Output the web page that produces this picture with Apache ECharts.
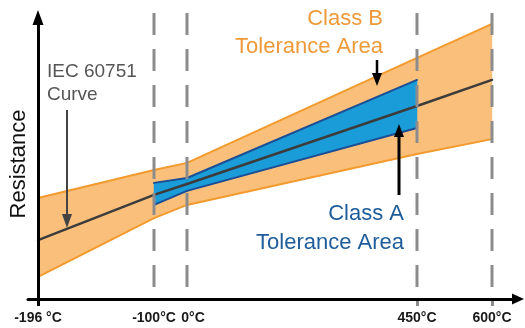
<!DOCTYPE html>
<html>
<head>
<meta charset="utf-8">
<script src="https://cdn.jsdelivr.net/npm/echarts@6/dist/echarts.min.js"></script>
<style>html,body{margin:0;padding:0;background:#fff;}#c{width:525px;height:328px;}</style>
</head>
<body>
<div id="c"></div>
<script>
// ---- data (schematic resistance units) ----
const temps = [-196, -100, 0, 450, 600];
const tickLabels = ['-196 °C', '-100°C', '0°C', '450°C', '600°C'];
const iecCurve = [20.6, 36.4, 40.2, 67.5, 76.6];
const classBUpper = [35.3, 45.1, 47.6, 84.3, 96.2];
const classBLower = [7.7, 28.3, 32.9, 50.7, 55.9];
const classATemps = [-100, 0, 450];
const classAUpper = [40.6, 42.3, 76.6];
const classALower = [32.9, 37.8, 59.8];
const refTemps = [-100, 0, 450, 600];

// ---- layout ----
const Y_MIN = 0, Y_MAX = 100;
const segWidths = [116, 33, 230, 75];
const plotLeft = 38, plotTop = 13, plotBottom = 29;
const ORANGE_FILL = '#FAC07B', ORANGE_LINE = '#F29A2E';
const BLUE_FILL = '#1A9CD8', BLUE_LINE = '#1C4E94';
const CURVE = '#3C3C3C', DASH = '#8C8C8C';
const FONT = '"Liberation Sans", Arial, sans-serif';

function bandSeries(gi, t0, t1, lo0, lo1, up0, up1, fill, stroke, z) {
  return {
    type: 'custom', xAxisIndex: gi, yAxisIndex: gi, z: z, clip: false,
    encode: { x: [0, 1], y: [2, 3, 4, 5] },
    data: [[t0, t1, lo0, lo1, up0, up1]],
    renderItem: function (params, api) {
      const pL0 = api.coord([api.value(0), api.value(2)]);
      const pL1 = api.coord([api.value(1), api.value(3)]);
      const pU0 = api.coord([api.value(0), api.value(4)]);
      const pU1 = api.coord([api.value(1), api.value(5)]);
      return {
        type: 'group',
        children: [
          { type: 'polygon', shape: { points: [pL0, pL1, pU1, pU0] }, style: { fill: fill, stroke: fill, lineWidth: 0.5 } },
          { type: 'line', shape: { x1: pL0[0], y1: pL0[1], x2: pL1[0], y2: pL1[1] }, style: { stroke: stroke, lineWidth: 2, lineCap: 'round' } },
          { type: 'line', shape: { x1: pU0[0], y1: pU0[1], x2: pU1[0], y2: pU1[1] }, style: { stroke: stroke, lineWidth: 2, lineCap: 'round' } }
        ]
      };
    }
  };
}

const grids = [], xAxes = [], yAxes = [], series = [];
let left = plotLeft;
segWidths.forEach((w, i) => {
  grids.push({ left: left, width: w, top: plotTop, bottom: plotBottom });
  left += w;
  const t0 = temps[i], t1 = temps[i + 1];
  let tickVals = [], labelVals = [];
  if (i === 0) { tickVals = [t0]; labelVals = [t0, t1]; }
  if (i === 1) { labelVals = [t1]; }
  if (i >= 2) { tickVals = [t1]; labelVals = [t1]; }
  xAxes.push({
    gridIndex: i, type: 'value', min: t0, max: t1,
    axisLine: { show: false }, splitLine: { show: false },
    axisTick: { show: tickVals.length > 0, customValues: tickVals, length: 7,
      lineStyle: { color: i === 0 ? '#000' : DASH, width: 3 } },
    axisLabel: { customValues: labelVals, margin: 12, color: '#1a1a1a',
      showMinLabel: true, showMaxLabel: true, hideOverlap: false,
      fontFamily: FONT, fontWeight: 'bold', fontSize: 14,
      formatter: v => v === 0 ? '{z|' + tickLabels[temps.indexOf(v)] + '}' : tickLabels[temps.indexOf(v)],
      rich: { z: { padding: [0, 0, 0, 12], fontFamily: FONT, fontWeight: 'bold', fontSize: 14, color: '#1a1a1a' } } }
  });
  yAxes.push({ gridIndex: i, type: 'value', min: Y_MIN, max: Y_MAX, show: false });

  // Class B band
  series.push(bandSeries(i, t0, t1, classBLower[i], classBLower[i + 1], classBUpper[i], classBUpper[i + 1],
    ORANGE_FILL, ORANGE_LINE, 1));
  // Class A band
  const a0 = classATemps.indexOf(t0), a1 = classATemps.indexOf(t1);
  if (a0 >= 0 && a1 >= 0) {
    series.push(bandSeries(i, t0, t1, classALower[a0], classALower[a1], classAUpper[a0], classAUpper[a1],
      BLUE_FILL, BLUE_LINE, 2));
  }
  // IEC curve
  series.push({
    type: 'line', xAxisIndex: i, yAxisIndex: i, symbol: 'none', z: 3,
    lineStyle: { color: CURVE, width: 2.5, cap: 'round' },
    data: [[t0, iecCurve[i]], [t1, iecCurve[i + 1]]]
  });
  // dashed reference lines
  refTemps.forEach(t => {
    const own = (i === 1 && (t === -100 || t === 0)) || (i === 3 && (t === 450 || t === 600));
    if (!own) return;
    series.push({
      type: 'line', xAxisIndex: i, yAxisIndex: i, symbol: 'none', z: 10, clip: false,
      lineStyle: { color: DASH, width: 3, type: [22, 14] },
      data: [[t, Y_MAX], [t, Y_MIN]]
    });
  });
});

// main axes with arrows
grids.push({ left: 28, right: 7, top: 17.5, bottom: plotBottom });
xAxes.push({ gridIndex: 4, type: 'value', min: 0, max: 1, z: 20,
  axisLine: { show: true, symbol: ['none', 'triangle'], symbolSize: [11, 12],
    lineStyle: { color: '#000', width: 3 } },
  axisTick: { show: false }, axisLabel: { show: false }, splitLine: { show: false } });
yAxes.push({ gridIndex: 4, type: 'value', min: 0, max: 1, offset: -10, z: 20,
  axisLine: { show: true, symbol: ['none', 'triangle'], symbolSize: [11, 15],
    lineStyle: { color: '#000', width: 3 } },
  axisTick: { show: false }, axisLabel: { show: false }, splitLine: { show: false } });

const chart = echarts.init(document.getElementById('c'), null, { renderer: 'canvas' });
chart.setOption({
  animation: false,
  grid: grids, xAxis: xAxes, yAxis: yAxes, series: series,
  graphic: [
    { type: 'text', x: 19, y: 164, rotation: Math.PI / 2, z: 100,
      style: { text: 'Resistance', font: '22px ' + FONT, fill: '#111', align: 'center', verticalAlign: 'middle' } },
    { type: 'text', x: 47, y: 60, z: 100,
      style: { text: 'IEC 60751\nCurve', font: '19px ' + FONT, fill: '#555', lineHeight: 23 } },
    { type: 'line', z: 100, shape: { x1: 67, y1: 110, x2: 67, y2: 216 }, style: { stroke: '#444', lineWidth: 2 } },
    { type: 'polygon', z: 100, shape: { points: [[62, 214], [72, 214], [67, 228]] }, style: { fill: '#444' } },
    { type: 'text', x: 383, y: 5, z: 100,
      style: { text: 'Class B\nTolerance Area', font: '22px ' + FONT, fill: '#EE9A3A', lineHeight: 28, align: 'right' } },
    { type: 'line', z: 100, shape: { x1: 377, y1: 60, x2: 377, y2: 74 }, style: { stroke: '#000', lineWidth: 2.5 } },
    { type: 'polygon', z: 100, shape: { points: [[372, 73], [382, 73], [377, 86]] }, style: { fill: '#000' } },
    { type: 'text', x: 404, y: 199, z: 100,
      style: { text: 'Class A\nTolerance Area', font: '22px ' + FONT, fill: '#1E5C9A', lineHeight: 29, align: 'right' } },
    { type: 'line', z: 100, shape: { x1: 399, y1: 195, x2: 399, y2: 136 }, style: { stroke: '#000', lineWidth: 3 } },
    { type: 'polygon', z: 100, shape: { points: [[394, 137], [404, 137], [399, 124]] }, style: { fill: '#000' } }
  ]
});
</script>
</body>
</html>
